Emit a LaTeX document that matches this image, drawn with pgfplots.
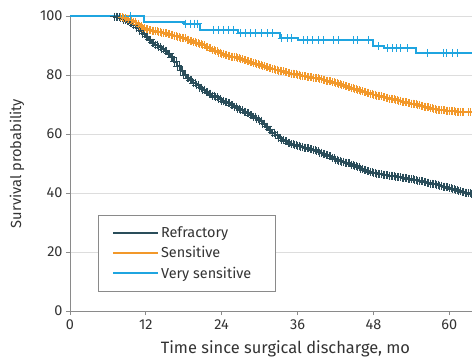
\documentclass[border=0pt]{standalone}
\usepackage{fontspec}
\setmainfont{Fira Sans}
\usepackage{pgfplots}
\usepackage{pgfplotstable}
\pgfplotsset{compat=1.18}
\definecolor{refr}{HTML}{2A4D5A}
\definecolor{sens}{HTML}{F2982A}
\definecolor{vsens}{HTML}{1FA5E0}
\definecolor{axgray}{HTML}{8A8A8A}
\definecolor{gridgray}{HTML}{DDDDDD}
\definecolor{txt}{HTML}{333333}
\pgfplotstableread{
x y
0 100
7 99.8
7.5 99.5
8 99.2
8.5 98.8
9 98.3
9.5 97.7
10 97
10.5 96
11 95
11.5 94
12 93
12.5 92
13 91
13.5 90.2
14 89.5
14.5 88.8
15 88.2
15.5 87.2
16 86
16.5 84.5
17 83
17.5 81.5
18 80
18.5 79
19 78.2
19.5 77.3
20 76.5
20.5 75.7
21 75
21.5 74.3
22 73.7
22.5 73
23 72.4
23.5 71.8
24 71.2
24.5 70.9
25 70.5
25.5 69.8
26 69.2
26.5 68.6
27 68
27.5 67.5
28 67
28.5 66.4
29 65.8
29.5 65.2
30 64.5
30.5 63.5
31 62.5
31.5 61.5
32 60.5
32.5 59.6
33 58.7
33.5 58
34 57.5
34.5 57
35 56.6
35.5 56.3
36 56
36.5 55.7
37 55.4
37.5 55.1
38 54.8
38.5 54.5
39 54.1
39.5 53.7
40 53.3
40.5 52.9
41 52.4
41.5 51.8
42 51.3
42.5 50.9
43 50.6
43.5 50.3
44 50
44.5 49.6
45 49.2
45.5 48.8
46 48.3
46.5 47.8
47 47.4
47.5 47.1
48 46.8
48.5 46.6
49 46.4
49.5 46.2
50 46
50.5 45.9
51 45.7
51.5 45.5
52 45.3
52.5 45.2
53 45
53.5 44.8
54 44.6
54.5 44.4
55 44.2
55.5 44
56 43.7
56.5 43.5
57 43.2
57.5 43
58 42.8
58.5 42.5
59 42.2
59.5 41.9
60 41.6
60.5 41.3
61 41
61.5 40.6
62 40.3
62.5 40.1
63 39.9
63.5 39.7
64 39.6
}\refrtab
\pgfplotstableread{
x y
0 100
8 99.6
8.5 99.3
9 99
9.5 98.5
10 98
10.5 97.3
11 96.5
11.5 96
12 95.5
12.5 95.2
13 95
13.5 94.8
14 94.6
14.5 94.4
15 94.2
15.5 93.9
16 93.6
16.5 93.3
17 93
17.5 92.7
18 92.4
18.5 92
19 91.6
19.5 91.2
20 90.8
20.5 90.4
21 90
21.5 89.5
22 89
22.5 88.5
23 88
23.5 87.6
24 87.2
24.5 86.8
25 86.5
25.5 86.2
26 86
26.5 85.6
27 85.3
27.5 85
28 84.6
28.5 84.3
29 84
29.5 83.6
30 83.3
30.5 83
31 82.7
31.5 82.4
32 82.1
32.5 81.8
33 81.5
33.5 81.2
34 81
34.5 80.7
35 80.5
35.5 80.2
36 80
36.5 79.8
37 79.6
37.5 79.4
38 79.2
38.5 79
39 78.9
39.5 78.6
40 78.4
40.5 78.1
41 77.8
41.5 77.5
42 77.2
42.5 76.8
43 76.5
43.5 76.2
44 75.9
44.5 75.6
45 75.3
45.5 74.9
46 74.6
46.5 74.3
47 74
47.5 73.6
48 73.3
48.5 73
49 72.8
49.5 72.5
50 72.3
50.5 72
51 71.8
51.5 71.5
52 71.3
52.5 71
53 70.8
53.5 70.5
54 70.3
54.5 70
55 69.8
55.5 69.5
56 69.3
56.5 69
57 68.8
57.5 68.5
58 68.3
58.5 68.1
59 68
59.5 67.9
60 67.8
60.5 67.7
61 67.6
61.5 67.5
62 67.4
63 67.4
64 67.4
}\senstab
\begin{document}
\begin{tikzpicture}
\path[use as bounding box] (-70bp,-49bp) rectangle (402bp,311bp);
\begin{axis}[
  scale only axis,
  width=402bp, height=295bp,
  xmin=0, xmax=63.6, ymin=0, ymax=100,
  axis x line=bottom, axis y line=left,
  axis line style={axgray, line width=0.8pt, -},
  xtick={0,12,24,36,48,60},
  ytick={0,20,40,60,80,100},
  tick align=outside,
  major tick length=4bp,
  tick style={axgray, line width=0.8pt},
  ymajorgrids,
  grid style={gridgray, line width=0.6pt},
  /pgf/number format/assume math mode=true,
  tick label style={font=\fontsize{14.5}{16}\selectfont, text=txt},
  xticklabel style={yshift=-1bp},
  xlabel={Time since surgical discharge, mo},
  ylabel={Survival probability},
  xlabel style={font=\fontsize{16.5}{18}\selectfont, text=txt, at={(axis description cs:0.536,-0.1288)}, anchor=center},
  ylabel style={font=\fontsize{14.7}{16}\selectfont, text=txt, at={(axis description cs:-0.1318,0.5)}, anchor=center},
  legend style={at={(axis cs:4.4,32.5)}, anchor=north west, draw=axgray, line width=0.6pt,
    font=\fontsize{14.5}{16}\selectfont, text=txt, inner xsep=14bp, inner ysep=9.5bp, row sep=3.5bp},
  legend cell align=left,
  legend image code/.code={\draw[#1, line width=2bp] (0bp,0bp) -- (45bp,0bp);},
  clip=true,
]
\addplot[refr, line width=2bp, const plot, mark=+, mark size=4bp, mark repeat=1, mark phase=2,
  mark options={line width=0.6pt, solid}] table {\refrtab};
\addlegendentry{Refractory}
\addplot[sens, line width=2bp, const plot, mark=+, mark size=4bp, mark repeat=1, mark phase=2,
  mark options={line width=0.6pt, solid}] table {\senstab};
\addlegendentry{Sensitive}
\addplot[vsens, line width=2bp, const plot] coordinates {
(0,100) (11.7,98) (18,97.4) (20.6,95.3) (26.6,94.1) (33.2,92.4) (36,91.7) (48,89.8) (49.6,89.1) (54.8,87.5) (64,87.5)
};
\addlegendentry{Very sensitive\kern8bp\relax}
\addplot[refr, only marks, mark=+, mark size=4bp, mark phase=2, mark repeat=1,
  mark options={line width=0.6pt, xshift=1.6bp}, forget plot] table {\refrtab};
\addplot[sens, only marks, mark=+, mark size=4bp, mark phase=2, mark repeat=1,
  mark options={line width=0.6pt, xshift=1.6bp}, forget plot] table {\senstab};
\addplot[vsens, only marks, mark=+, mark size=4bp, mark options={line width=0.6pt}, forget plot] coordinates {
(9.5,100) (18.3,97.4) (19,97.4) (19.6,97.4) (20.2,97.4)
(22.6,95.3) (23.5,95.3) (24.2,95.3) (25,95.3) (25.8,95.3)
(26.9,94.1) (27.8,94.1) (28.5,94.1) (29.3,94.1) (30.2,94.1) (31.2,94.1) (32,94.1)
(33.5,92.4) (34.3,92.4) (35,92.4)
(36.9,91.7) (37.6,91.7) (38.4,91.7) (39.3,91.7) (40.1,91.7) (41.6,91.7) (42.5,91.7) (44.8,91.7) (45.4,91.7) (47.2,91.7)
(48.8,89.8) (50.2,89.1) (51,89.1) (51.6,89.1) (52.3,89.1) (53.3,89.1)
(56.5,87.5) (59,87.5) (59.6,87.5) (60.5,87.5) (61.2,87.5)
};
\end{axis}
\end{tikzpicture}
\end{document}
